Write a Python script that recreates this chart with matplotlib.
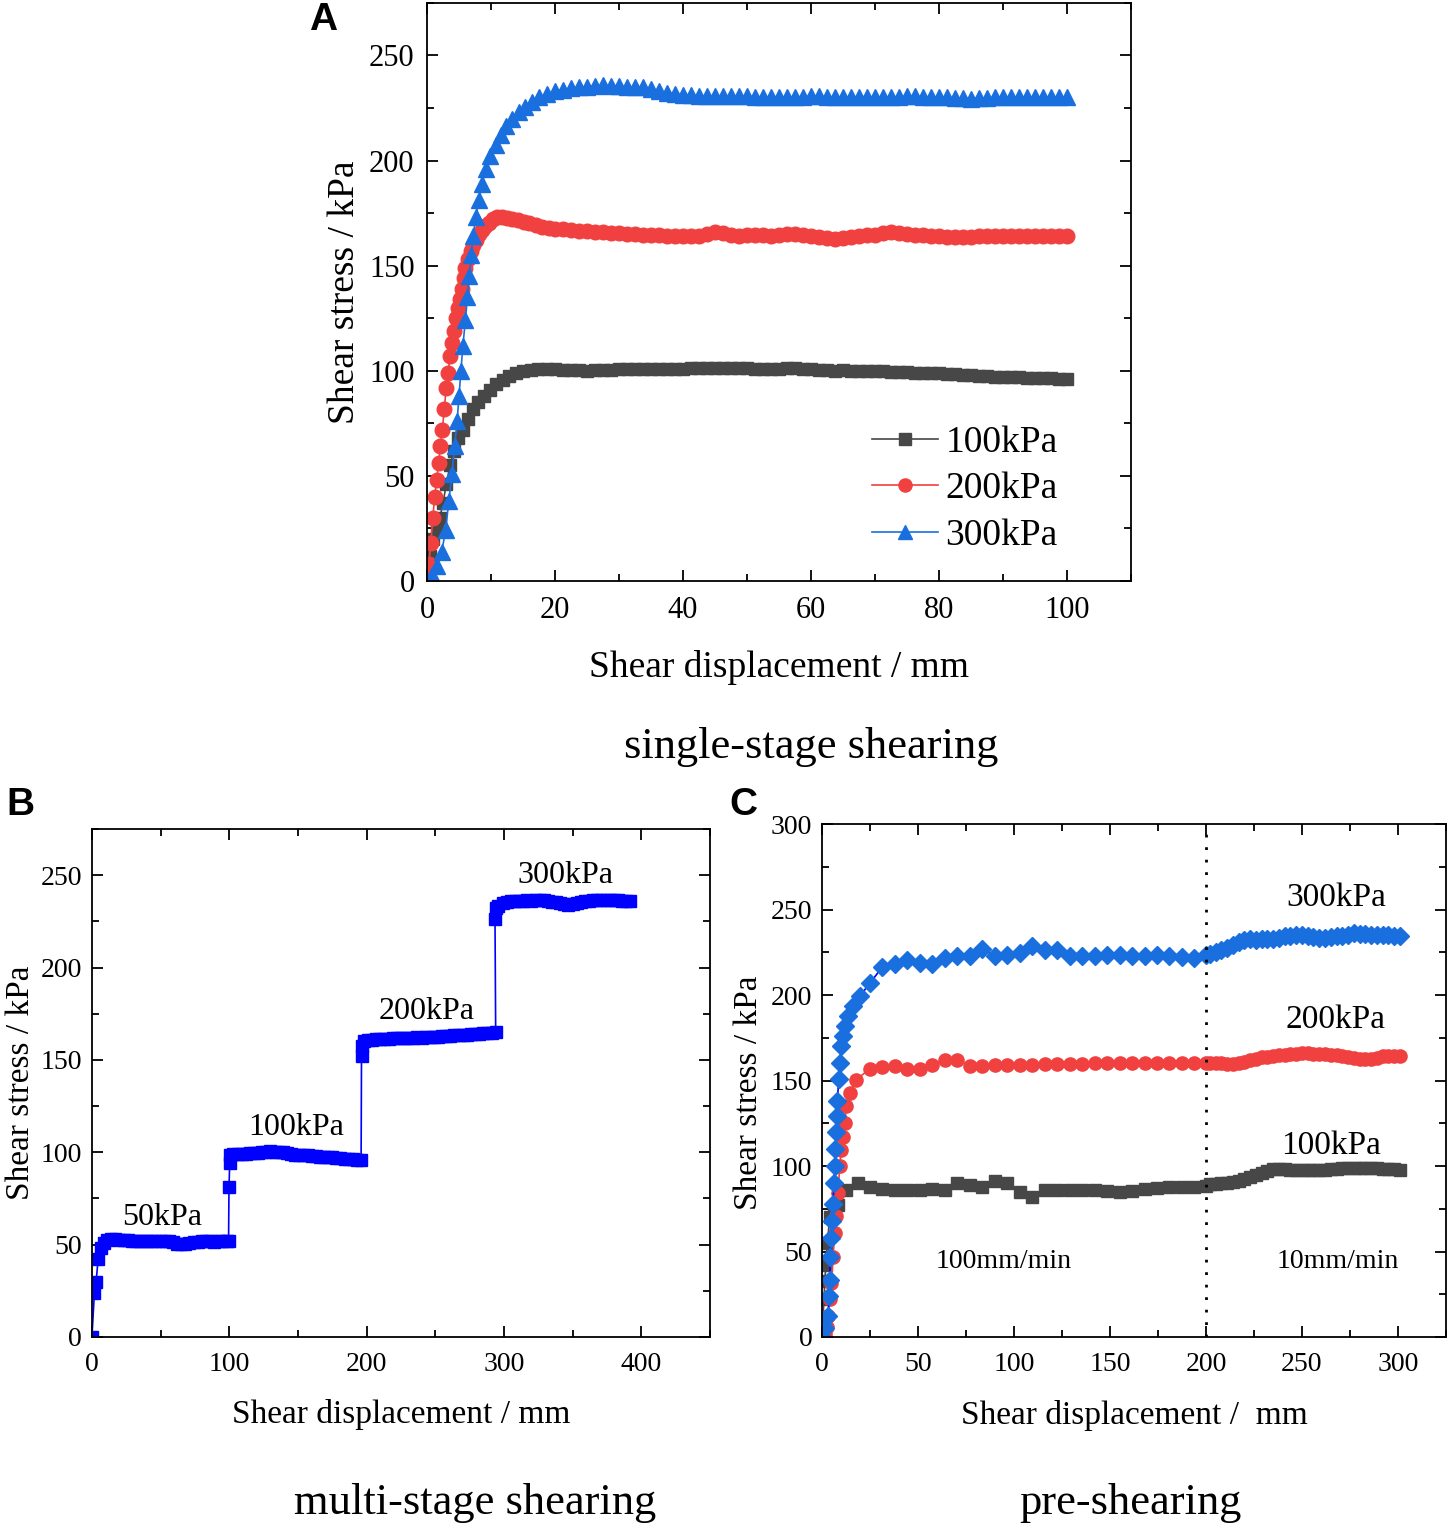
import matplotlib
matplotlib.use("Agg")
import matplotlib.pyplot as plt
from matplotlib.ticker import MultipleLocator

plt.rcParams['font.family'] = ['Liberation Serif', 'DejaVu Serif']
plt.rcParams['mathtext.fontset'] = 'stix'

# ---------------- Panel A: single-stage shearing ----------------
a_x_plateau = [21.25, 22.5, 23.75, 25, 26.25, 27.5, 28.75, 30,
               31.25, 32.5, 33.75, 35, 36.25, 37.5, 38.75, 40,
               41.25, 42.5, 43.75, 45, 46.25, 47.5, 48.75, 50,
               51.25, 52.5, 53.75, 55, 56.25, 57.5, 58.75, 60,
               61.25, 62.5, 63.75, 65, 66.25, 67.5, 68.75, 70,
               71.25, 72.5, 73.75, 75, 76.25, 77.5, 78.75, 80,
               81.25, 82.5, 83.75, 85, 86.25, 87.5, 88.75, 90,
               91.25, 92.5, 93.75, 95, 96.25, 97.5, 98.75, 100]

a100_x_early = [0, 0.5, 1.0, 1.5, 2.0, 2.5, 3.0, 3.6, 4.2, 4.9, 5.6, 6.4, 7.2, 8.0,
                8.9, 9.8, 10.8, 11.8, 12.8, 13.9, 15.0, 16.2, 17.4, 18.7, 20.0]
a100_y_early = [0, 12, 20, 25, 30, 37, 46, 55, 62, 68, 72, 77, 82, 85,
                88, 91, 93.5, 95.5, 97.5, 99, 100, 100.5, 100.8, 100.8, 100.6]
a100_y_plateau = [100.5, 100.3, 100.2, 100.0, 100.2, 100.4, 100.5, 100.6,
                  100.7, 100.8, 100.8, 100.9, 101.0, 101.0, 100.9, 101.0,
                  101.1, 101.2, 101.2, 101.1, 101.3, 101.4, 101.3, 101.2,
                  101.0, 100.8, 100.6, 100.8, 101.2, 101.3, 100.9, 100.6,
                  100.4, 100.3, 100.1, 100.2, 100.0, 99.8, 99.7, 99.8,
                  99.7, 99.5, 99.3, 99.2, 99.0, 99.1, 98.9, 98.8,
                  98.6, 98.4, 98.1, 97.8, 97.5, 97.3, 97.2, 97.1,
                  97.0, 96.9, 96.7, 96.6, 96.5, 96.4, 96.3, 96.3]

a200_x_early = [0, 0.3, 0.6, 0.9, 1.2, 1.5, 1.8, 2.1, 2.4, 2.7, 3.0, 3.3, 3.6, 3.9,
                4.2, 4.5, 4.8, 5.1, 5.4, 5.7, 6.0, 6.4, 6.8, 7.2, 7.6, 8.1, 8.6,
                9.1, 9.7, 10.3, 11.0, 11.7, 12.5, 13.3, 14.2, 15.1, 16.0, 17.0,
                18.0, 19.0, 20.0]
a200_y_early = [0, 8, 18, 30, 40, 48, 56, 64, 72, 82, 92, 99, 107, 113,
                119, 125, 130, 134, 139, 144, 149, 153, 157, 160, 162, 165, 167,
                169, 170.5, 172, 173, 173, 172.5, 172, 171.5, 171, 170.5, 169.5,
                168.5, 168, 167.5]
a200_y_plateau = [167.2, 166.9, 166.6, 166.3, 166.0, 165.8, 165.6, 165.4,
                  165.2, 165.0, 164.8, 164.6, 164.5, 164.3, 164.2, 164.0,
                  164.0, 164.3, 165.2, 166.0, 165.4, 164.6, 164.3, 164.6,
                  164.8, 164.5, 164.2, 164.4, 164.9, 165.2, 164.6, 164.0,
                  163.5, 163.0, 162.8, 163.2, 163.8, 164.1, 164.4, 164.6,
                  165.5, 166.2, 165.6, 165.0, 164.8, 164.5, 164.3, 164.0,
                  163.8, 163.6, 163.6, 163.8, 164.0, 164.1, 164.0, 163.9,
                  164.0, 164.1, 164.2, 164.1, 164.0, 164.1, 164.2, 164.2]

a300_x_early = [0, 0.8, 1.6, 2.3, 2.9, 3.4, 3.9, 4.3, 4.7, 5.0, 5.3, 5.6, 6.0, 6.3,
                6.6, 6.9, 7.2, 7.6, 8.1, 8.6, 9.2, 9.9, 10.7, 11.5, 12.4, 13.3,
                14.3, 15.3, 16.4, 17.5, 18.7, 20.0]
a300_y_early = [0, 3, 7, 14, 24, 38, 51, 64, 76, 88, 100, 112, 124, 135,
                145, 155, 164, 173, 181, 189, 196, 202, 207.5, 212, 216.5, 220,
                223, 225.5, 228, 230, 231.5, 233]
a300_y_plateau = [233.8, 234.3, 234.8, 235.2, 235.6, 235.8, 235.6, 235.3,
                  235.0, 235.1, 234.8, 234.0, 233.0, 232.2, 231.7, 231.3,
                  231.0, 230.8, 230.8, 230.7, 230.6, 230.5, 230.6, 230.5,
                  230.4, 230.3, 230.3, 230.4, 230.2, 230.3, 230.4, 230.5,
                  230.5, 230.4, 230.3, 230.2, 230.3, 230.4, 230.4, 230.3,
                  230.2, 230.3, 230.4, 230.5, 230.5, 230.4, 230.3, 230.2,
                  230.0, 229.8, 229.6, 229.5, 229.7, 229.9, 230.0, 230.1,
                  230.2, 230.3, 230.3, 230.2, 230.1, 230.2, 230.3, 230.2]
a_labels = ['100kPa', '200kPa', '300kPa']

# ---------------- Panel B: multi-stage shearing ----------------
b1_x = [0, 1.8, 3.0, 4.5, 6.5, 8.5, 11, 14, 17, 20, 23, 26, 29, 32, 35, 38, 41, 44,
        47, 50, 53, 56, 59, 62, 65, 68, 71, 74, 77, 80, 83, 86, 89, 92, 95, 98, 99.5]
b1_y = [0, 24, 29.6, 42, 48, 51, 52.5, 53, 53, 52.5, 52.5, 52.5, 52.2, 52.2, 52, 52,
        52, 52.2, 52, 51.8, 51.8, 52, 51.5, 50.5, 50.2, 50.3, 51, 51.3, 51.5, 51.8,
        51.8, 51.8, 51.6, 51.8, 52, 51.8, 51.8]
b2_x = [99.8, 100.3, 100.5, 103, 106, 109, 112, 115, 118, 121, 124, 127, 130, 133,
        136, 139, 142, 145, 148, 151, 154, 157, 160, 163, 166, 169, 172, 175, 178,
        181, 184, 187, 190, 193, 196]
b2_y = [81, 94, 98.5, 98.8, 99, 99.2, 99.3, 99.5, 99.6, 99.8, 100, 100.3, 100.5,
        100.4, 100.2, 100, 99.6, 99, 98.7, 98.5, 98.5, 98.3, 98, 97.8, 97.6, 97.5,
        97.6, 97.3, 97, 96.8, 96.5, 96.3, 96.2, 96, 96]
b3_x = [196.3, 197, 198, 201, 204, 207, 210, 213, 216, 219, 222, 225, 228, 231, 234,
        237, 240, 243, 246, 249, 252, 255, 258, 261, 264, 267, 270, 273, 276, 279,
        282, 285, 288, 291, 294]
b3_y = [152, 157.5, 160.2, 160.8, 161, 161.2, 161.3, 161.5, 161.4, 161.6, 161.8,
        161.7, 161.9, 162, 162, 162.2, 162.1, 162.3, 162.5, 162.4, 162.6, 162.8,
        162.9, 163, 163.2, 163.4, 163.5, 163.7, 163.8, 164, 164.2, 164.4, 164.6,
        164.8, 165]
b4_x = [293.5, 294.5, 296, 299, 302, 305, 308, 311, 314, 317, 320, 323, 326, 329,
        332, 335, 338, 341, 344, 347, 350, 353, 356, 359, 362, 365, 368, 371, 374,
        377, 380, 383, 386, 389, 392]
b4_y = [226, 232, 233.5, 235, 235.5, 235.8, 236, 236, 236.2, 236.3, 236.2, 236.4,
        236.5, 236.4, 236, 235.5, 235.2, 235, 234.5, 234, 234.2, 235, 235.6, 236,
        236.2, 236.4, 236.5, 236.6, 236.5, 236.6, 236.8, 236.5, 236.2, 236, 235.8]
b_labels = ['50kPa', '100kPa', '200kPa', '300kPa']
b_label_x = [51, 148.6, 244, 344.6]
b_label_y = [64.5, 113.3, 176, 250]

# ---------------- Panel C: pre-shearing ----------------
c_x_mid = [25.0, 31.5, 38.0, 44.5, 51.0, 57.5, 64.0, 70.5, 77.0, 83.5, 90.0, 96.5,
           103.0, 109.5, 116.0, 122.5, 129.0, 135.5, 142.0, 148.5, 155.0, 161.5,
           168.0, 174.5, 181.0, 187.5, 194.0, 200.0]
c_x_slow = [202, 205, 208, 211, 214, 217, 220, 223, 226, 229, 232, 235, 238, 241,
            244, 247, 250, 253, 256, 259, 262, 265, 268, 271, 274, 277, 280, 283,
            286, 289, 292, 295, 298, 301]

c100_x_early = [0, 0.5, 1.0, 1.5, 2.0, 2.8, 4.0, 6.0, 8.4, 12.7, 18.8]
c100_y_early = [0, 10, 22, 33, 42, 55, 70, 74, 77, 86, 90]
c100_y_mid = [87.8, 86.6, 86.0, 86.0, 86.0, 86.6, 86.0, 90.0, 89.0, 87.8, 91.0, 90.0,
              85.0, 82.0, 85.8, 86.0, 86.0, 86.0, 86.0, 85.5, 85.0, 85.5, 86.5, 87.0,
              87.5, 87.5, 88.0, 88.5]
c100_y_slow = [89.2, 89.5, 89.8, 90.2, 90.8, 91.5, 92.2, 93.3, 94.5, 95.8, 97, 98,
               98.2, 98, 97.8, 97.7, 97.6, 97.6, 97.7, 97.8, 97.9, 98.2, 98.5, 98.6,
               98.7, 98.9, 99, 99.1, 99, 98.8, 98.5, 98.2, 98, 97.8]

c200_x_early = [0, 1.5, 2.5, 3.1, 4.0, 4.9, 5.7, 6.6, 7.5, 8.4, 9.2, 10.1, 11.0, 11.8,
                12.7, 14.5, 17.9]
c200_y_early = [0, 2, 6, 12, 22, 31.6, 47, 61, 70.6, 84, 100, 109.6, 117, 125, 135,
                142.7, 150.5]
c200_y_mid = [157, 158, 158.7, 157, 157, 159, 161.8, 161.8, 158.7, 158.7, 159, 159,
              159, 159.2, 159.5, 159.5, 159.8, 159.8, 160.3, 160, 160, 160.2, 160.3,
              160.2, 160.3, 160.4, 160.3, 160.5]
c200_y_slow = [160.5, 160.3, 160.2, 159.8, 159.5, 160, 160.8, 161.8, 162.8, 163.5,
               164, 164.3, 164.8, 165.2, 165.5, 165.8, 166, 166, 165.8, 165.6, 165.4,
               165.1, 164.8, 164.4, 163.8, 163.2, 162.6, 162.3, 162.6, 163.3, 164.1,
               164.3, 164.5, 164.6]

c300_x_early = [0, 1.5, 3.1, 3.7, 4.0, 4.4, 4.9, 5.2, 5.7, 6.3, 6.6, 7.0, 7.3, 7.6,
                8.0, 8.7, 9.2, 10.1, 11.0, 11.8, 13.6, 16.2, 19.7]
c300_y_early = [0, 5, 12, 24, 33.5, 47, 58, 68, 78, 90, 100, 110, 120, 129, 138,
                150.6, 160, 170, 176, 181.7, 187.6, 193.5, 199.3]
c300_y_mid = [207, 216.5, 218, 220.5, 218.8, 218, 221.5, 222.7, 223, 227, 222.7,
              223.7, 224.7, 228.6, 226.6, 226.6, 222.7, 222.7, 223, 223.3, 223.2, 223,
              223, 223.2, 222.8, 222.5, 221.8, 223.5]
c300_y_slow = [224, 225, 226.3, 227.5, 229, 231, 232.3, 232.5, 232.4, 232.6, 232.8,
               233, 233.5, 234.3, 234.8, 235.2, 235, 234.5, 234, 233.6, 233.5, 233.8,
               234.3, 234.8, 235.4, 236, 235.8, 235.5, 235.2, 235.2, 235.3, 235, 234.8,
               234.5]
c_labels = ['300kPa', '200kPa', '100kPa']
c_label_x = [267.7, 267.7, 265]
c_label_y = [256.7, 185.4, 111.7]
c_rate_labels = ['100mm/min', '10mm/min']
c_rate_x = [94.8, 268.8]
c_rate_y = [43.9, 43.9]
c_switch_x = 200

# ---------------- colours ----------------
col_gray = '#474747'
col_red = '#F14040'
col_blue = '#1A6FDF'
col_pure_blue = '#0000FF'

fig = plt.figure(figsize=(14.5, 15.28), dpi=100)


def style_axes(ax, tick_size, pad_x, pad_y):
    ax.tick_params(which='both', direction='in', top=True, right=True,
                   labelsize=tick_size, width=1.3)
    ax.tick_params(which='major', length=8)
    ax.tick_params(which='minor', length=5)
    ax.tick_params(axis='x', which='major', pad=pad_x)
    ax.tick_params(axis='y', which='major', pad=pad_y)
    for s in ax.spines.values():
        s.set_linewidth(1.3)


# ---- A ----
axA = fig.add_axes([0.2945, 0.6198, 0.4855, 0.3783])
axA.plot(a100_x_early + a_x_plateau, a100_y_early + a100_y_plateau, color=col_gray,
         lw=1.2, marker='s', ms=9, mec=col_gray, mfc=col_gray, label=a_labels[0])
axA.plot(a200_x_early + a_x_plateau, a200_y_early + a200_y_plateau, color=col_red,
         lw=1.2, marker='o', ms=10.5, mec=col_red, mfc=col_red, label=a_labels[1])
axA.plot(a300_x_early + a_x_plateau, a300_y_early + a300_y_plateau, color=col_blue,
         lw=1.2, marker='^', ms=11.5, mec=col_blue, mfc=col_blue, label=a_labels[2])
axA.set_xlim(0, 110)
axA.set_ylim(0, 275)
axA.xaxis.set_major_locator(MultipleLocator(20))
axA.xaxis.set_minor_locator(MultipleLocator(10))
axA.yaxis.set_major_locator(MultipleLocator(50))
axA.yaxis.set_minor_locator(MultipleLocator(25))
style_axes(axA, 22, 11, 9)
axA.set_xlabel('Shear displacement / mm', fontsize=27)
axA.set_ylabel('Shear stress / kPa', fontsize=27)
axA.xaxis.set_label_coords(0.5, -0.119)
axA.yaxis.set_label_coords(-0.092, 0.5)
leg = axA.legend(loc='center', bbox_to_anchor=(0.764, 0.159), frameon=False,
                 fontsize=27, handlelength=1.75, handletextpad=0.2,
                 labelspacing=0.32, borderaxespad=0, borderpad=0, markerscale=0.9)

# ---- B ----
axB = fig.add_axes([0.0634, 0.125, 0.4262, 0.3325])
axB.plot(b1_x + b2_x + b3_x + b4_x, b1_y + b2_y + b3_y + b4_y, color=col_pure_blue,
         lw=1.2, marker='s', ms=8, mec=col_pure_blue, mfc=col_pure_blue)
for t, x, y in zip(b_labels, b_label_x, b_label_y):
    axB.text(x, y, t, fontsize=23, ha='center', va='center')
axB.set_xlim(0, 450)
axB.set_ylim(0, 275)
axB.xaxis.set_major_locator(MultipleLocator(100))
axB.xaxis.set_minor_locator(MultipleLocator(50))
axB.yaxis.set_major_locator(MultipleLocator(50))
axB.yaxis.set_minor_locator(MultipleLocator(25))
style_axes(axB, 20, 11, 7)
axB.set_xlabel('Shear displacement / mm', fontsize=24)
axB.set_ylabel('Shear stress / kPa', fontsize=24)
axB.xaxis.set_label_coords(0.5, -0.122)
axB.yaxis.set_label_coords(-0.0906, 0.5)

# ---- C ----
axC = fig.add_axes([0.5669, 0.125, 0.4303, 0.3357])
axC.plot(c100_x_early + c_x_mid + c_x_slow, c100_y_early + c100_y_mid + c100_y_slow,
         color=col_gray, lw=1.2, marker='s', ms=9, mec=col_gray, mfc=col_gray)
axC.plot(c200_x_early + c_x_mid + c_x_slow, c200_y_early + c200_y_mid + c200_y_slow,
         color=col_red, lw=1.2, marker='o', ms=9.5, mec=col_red, mfc=col_red)
axC.plot(c300_x_early + c_x_mid + c_x_slow, c300_y_early + c300_y_mid + c300_y_slow,
         color=col_pure_blue, lw=1.2, marker='D', ms=9.5, mec=col_blue, mfc=col_blue)
axC.axvline(c_switch_x, color='black', lw=2, linestyle=(0, (1, 3.5)))
for t, x, y in zip(c_labels, c_label_x, c_label_y):
    axC.text(x, y, t, fontsize=24, ha='center', va='center')
for t, x, y in zip(c_rate_labels, c_rate_x, c_rate_y):
    axC.text(x, y, t, fontsize=20, ha='center', va='center')
axC.set_xlim(0, 325)
axC.set_ylim(0, 300)
axC.xaxis.set_major_locator(MultipleLocator(50))
axC.xaxis.set_minor_locator(MultipleLocator(25))
axC.yaxis.set_major_locator(MultipleLocator(50))
axC.yaxis.set_minor_locator(MultipleLocator(25))
style_axes(axC, 20, 11, 7)
axC.set_xlabel('Shear displacement /  mm', fontsize=24)
axC.set_ylabel('Shear stress / kPa', fontsize=24)
axC.xaxis.set_label_coords(0.5, -0.123)
axC.yaxis.set_label_coords(-0.093, 0.4756)

# ---- panel letters and captions ----
for t, x, y in [('A', 0.2228, 0.987), ('B', 0.0138, 0.4732), ('C', 0.5124, 0.4732)]:
    fig.text(x, y, t, fontsize=28, fontweight='bold', ha='center', va='center',
             family=['Liberation Sans', 'DejaVu Sans'])
for t, x, y in [('single-stage shearing', 0.5593, 0.5114),
                ('multi-stage shearing', 0.3276, 0.0164),
                ('pre-shearing', 0.7793, 0.0164)]:
    fig.text(x, y, t, fontsize=32, ha='center', va='center')

fig.savefig('out.png', dpi=100)
